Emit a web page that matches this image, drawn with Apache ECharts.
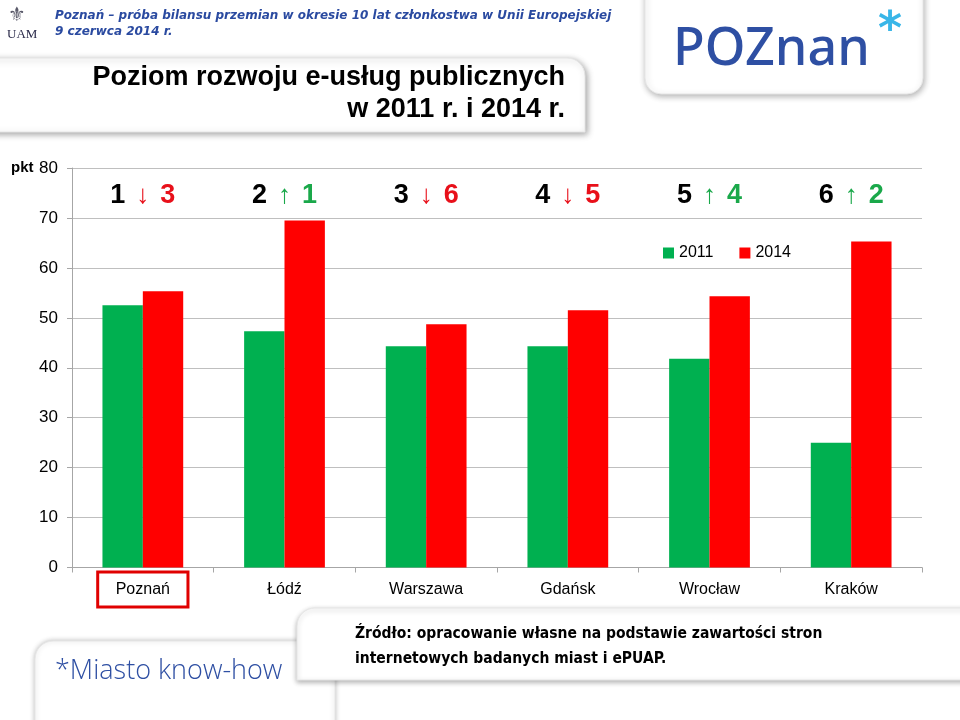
<!DOCTYPE html>
<html>
<head>
<meta charset="utf-8">
<script src="https://cdn.jsdelivr.net/npm/echarts@6/dist/echarts.min.js"></script>
<style>
html,body{margin:0;padding:0;background:#fff;}
#c{width:960px;height:720px;}
</style>
</head>
<body>
<div id="c"></div>
<script>
const cities = ['Poznań', 'Łódź', 'Warszawa', 'Gdańsk', 'Wrocław', 'Kraków'];
const values2011 = [52.5, 47.3, 44.3, 44.3, 41.8, 25.0];
const values2014 = [55.3, 69.5, 48.7, 51.5, 54.3, 65.3];
const rank2011 = [1, 2, 3, 4, 5, 6];
const rank2014 = [3, 1, 6, 5, 4, 2];
const yTicks = [0, 10, 20, 30, 40, 50, 60, 70, 80];
const rankLabelLevel = 74.5;

const GREEN = '#00b050';
const RED = '#ff0000';
const NARROW = '"Liberation Sans Narrow", "Arial Narrow", "Liberation Sans", Arial, sans-serif';

const chart = echarts.init(document.getElementById('c'), null, {renderer: 'canvas'});

const rankData = cities.map((c, i) => ({
  value: [c, rankLabelLevel],
  r1: rank2011[i],
  r2: rank2014[i]
}));

const NUMFONT = '"Liberation Sans", Arial, sans-serif';

const option = {
  backgroundColor: '#ffffff',
  animation: false,
  grid: {left: 72, right: 38, top: 168, bottom: 152.5, containLabel: false},
  legend: {
    data: ['2011', '2014'],
    left: 658, top: 240,
    icon: 'rect', itemWidth: 11, itemHeight: 11, itemGap: 26,
    textStyle: {fontFamily: NARROW, fontSize: 16, color: '#000'}
  },
  xAxis: {
    type: 'category',
    data: cities,
    axisLine: {lineStyle: {color: '#a6a6a6', width: 1}},
    axisTick: {show: true, length: 5, inside: false, lineStyle: {color: '#a6a6a6'}},
    axisLabel: {
      margin: 22, verticalAlign: 'middle',
      fontFamily: NARROW, fontSize: 16, color: '#000',
      formatter: (v, i) => i === 0 ? '{hl|' + v + '}' : v,
      rich: {
        hl: {
          fontFamily: NARROW, fontSize: 16, color: '#000',
          borderColor: '#e00000', borderWidth: 3,
          padding: [10, 18, 9, 18]
        }
      }
    }
  },
  yAxis: {
    type: 'value',
    min: yTicks[0], max: yTicks[yTicks.length - 1], interval: 10,
    axisLine: {show: true, lineStyle: {color: '#a6a6a6'}},
    axisTick: {show: true, length: 5, lineStyle: {color: '#a6a6a6'}},
    splitLine: {lineStyle: {color: '#bfbfbf', width: 1}},
    axisLabel: {
      margin: 14, fontFamily: NARROW, fontSize: 17, color: '#000',
      formatter: v => yTicks.includes(v) ? String(v) : ''
    }
  },
  series: [
    {
      name: '2011', type: 'bar', data: values2011,
      itemStyle: {color: GREEN}, barGap: '0%', barCategoryGap: '43%'
    },
    {
      name: '2014', type: 'bar', data: values2014,
      itemStyle: {color: RED}, barGap: '0%', barCategoryGap: '43%'
    },
    {
      name: 'rank', type: 'scatter', data: rankData,
      symbolSize: 1, itemStyle: {color: 'rgba(0,0,0,0)', opacity: 1},
      silent: true,
      label: {
        show: true, position: 'inside', opacity: 1,
        formatter: p => {
          const d = p.data;
          const up = d.r2 < d.r1;
          const col = up ? 'g' : 'r';
          return '{n|' + d.r1 + '}{' + (up ? 'ag' : 'ar') + '|' + (up ? '↑' : '↓') + '}{' + col + '|' + d.r2 + '}';
        },
        rich: {
          n: {fontFamily: NUMFONT, fontWeight: 'bold', fontSize: 27, color: '#000000'},
          r: {fontFamily: NUMFONT, fontWeight: 'bold', fontSize: 27, color: '#e8101a'},
          g: {fontFamily: NUMFONT, fontWeight: 'bold', fontSize: 27, color: '#1aa84a'},
          ar: {fontFamily: NUMFONT, fontSize: 26, color: '#e8101a', padding: [0, 11, 0, 11]},
          ag: {fontFamily: NUMFONT, fontSize: 26, color: '#1aa84a', padding: [0, 11, 0, 11]}
        }
      }
    }
  ],
  graphic: [
    // header
    {type: 'text', left: 55, top: 10, style: {text: 'Poznań – próba bilansu przemian w okresie 10 lat członkostwa w Unii Europejskiej', font: 'italic bold 12px "DejaVu Sans", Verdana, sans-serif', fill: '#2a4aa0'}},
    {type: 'text', left: 55, top: 26, style: {text: '9 czerwca 2014 r.', font: 'italic bold 12px "DejaVu Sans", Verdana, sans-serif', fill: '#2a4aa0'}},
    // UAM logo approximation
    {type: 'text', left: 8, top: 6, style: {text: '⚜', font: '20px "DejaVu Sans", sans-serif', fill: '#5a5a6a'}},
    {type: 'text', left: 7, top: 28, style: {text: 'UAM', font: '13px "Liberation Serif", serif', fill: '#2a2a4a'}},
    // title box
    {type: 'rect', shape: {x: -20, y: 58, width: 605, height: 74, r: [0, 18, 0, 0]}, style: {fill: '#ffffff', stroke: '#e6e6e6', shadowBlur: 6, shadowColor: 'rgba(0,0,0,0.35)', shadowOffsetX: 2, shadowOffsetY: 2}},
    {type: 'text', right: 395, top: 64, style: {text: 'Poziom rozwoju e-usług publicznych', font: 'bold 27px "Liberation Sans", Arial, sans-serif', fill: '#000', textAlign: 'right'}},
    {type: 'text', right: 395, top: 96, style: {text: 'w 2011 r. i 2014 r.', font: 'bold 27px "Liberation Sans", Arial, sans-serif', fill: '#000', textAlign: 'right'}},
    // POZnan logo box
    {type: 'rect', shape: {x: 645, y: -20, width: 278, height: 114, r: [0, 0, 16, 16]}, style: {fill: '#ffffff', stroke: '#e6e6e6', shadowBlur: 6, shadowColor: 'rgba(0,0,0,0.3)', shadowOffsetX: 1, shadowOffsetY: 2}},
    {type: 'text', left: 673, top: 24, style: {text: 'POZnan', font: '500 52px "Noto Sans", "DejaVu Sans", sans-serif', fill: '#2e4fa3'}},
    {type: 'text', left: 878, top: 9, style: {text: '*', font: 'bold 46px "DejaVu Sans", sans-serif', fill: '#39b6e8'}},
    // y axis unit
    {type: 'text', left: 11, top: 160, style: {text: 'pkt', font: 'bold 15px "Liberation Sans", Arial, sans-serif', fill: '#000'}},
    // bottom boxes
    {type: 'rect', shape: {x: 35, y: 641, width: 300, height: 100, r: [18, 18, 0, 0]}, style: {fill: '#ffffff', stroke: '#e6e6e6', shadowBlur: 5, shadowColor: 'rgba(0,0,0,0.25)', shadowOffsetX: 0, shadowOffsetY: 0}},
    {type: 'text', left: 55, top: 658, style: {text: '*Miasto know-how', font: '300 27px "Open Sans", "DejaVu Sans", sans-serif', fill: '#2e4fa3'}},
    {type: 'rect', shape: {x: 297, y: 608, width: 700, height: 72, r: [18, 0, 0, 0]}, style: {fill: '#ffffff', stroke: '#e6e6e6', shadowBlur: 5, shadowColor: 'rgba(0,0,0,0.3)', shadowOffsetX: 0, shadowOffsetY: 2}},
    {type: 'text', left: 355, top: 626, style: {text: 'Źródło: opracowanie własne na podstawie zawartości stron', font: 'bold 15.5px "DejaVu Sans Condensed", "DejaVu Sans", sans-serif', fill: '#000'}},
    {type: 'text', left: 355, top: 651, style: {text: 'internetowych badanych miast i ePUAP.', font: 'bold 15.5px "DejaVu Sans Condensed", "DejaVu Sans", sans-serif', fill: '#000'}}
  ]
};

chart.setOption(option);
</script>
</body>
</html>
